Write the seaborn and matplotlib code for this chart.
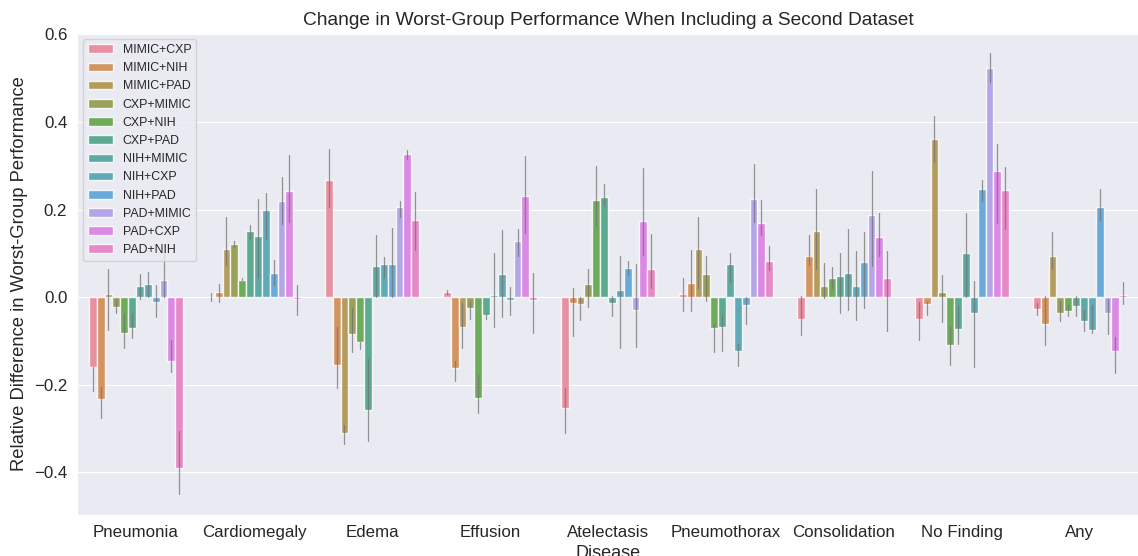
import numpy as np
import pandas as pd
import seaborn as sns
import matplotlib
matplotlib.use("Agg")
import matplotlib.pyplot as plt

diseases = ["Pneumonia", "Cardiomegaly", "Edema", "Effusion", "Atelectasis",
            "Pneumothorax", "Consolidation", "No Finding", "Any"]
combos = ["MIMIC+CXP", "MIMIC+NIH", "MIMIC+PAD", "CXP+MIMIC", "CXP+NIH", "CXP+PAD",
          "NIH+MIMIC", "NIH+CXP", "NIH+PAD", "PAD+MIMIC", "PAD+CXP", "PAD+NIH"]

# bar heights per disease, in combo order
pneumonia = [-0.159, -0.233, 0.007, -0.022, -0.081, -0.071, 0.025, 0.030, -0.011, 0.040, -0.145, -0.389]
cardiomegaly = [0.001, 0.012, 0.111, 0.122, 0.040, 0.151, 0.140, 0.200, 0.055, 0.219, 0.243, -0.003]
edema = [0.268, -0.155, -0.309, -0.083, -0.103, -0.258, 0.071, 0.075, 0.075, 0.206, 0.327, 0.177]
effusion = [0.013, -0.162, -0.068, -0.024, -0.231, -0.041, 0.006, 0.054, -0.007, 0.128, 0.232, -0.007]
atelectasis = [-0.252, -0.014, -0.016, 0.030, 0.221, 0.228, -0.013, 0.017, 0.067, -0.030, 0.173, 0.065]
pneumothorax = [0.007, 0.033, 0.109, 0.054, -0.071, -0.068, 0.075, -0.123, -0.018, 0.225, 0.170, 0.082]
consolidation = [-0.049, 0.095, 0.151, 0.026, 0.043, 0.048, 0.056, 0.026, 0.080, 0.188, 0.137, 0.043]
no_finding = [-0.049, -0.016, 0.360, 0.011, -0.108, -0.073, 0.102, -0.035, 0.248, 0.522, 0.288, 0.244]
any_disease = [-0.027, -0.062, 0.094, -0.035, -0.032, -0.021, -0.054, -0.075, 0.205, -0.035, -0.123, 0.006]

# error bar ends (upper, lower)
pneumonia_hi = [-0.159, -0.205, 0.065, -0.003, -0.037, -0.037, 0.054, 0.058, 0.027, 0.100, -0.098, -0.305]
pneumonia_lo = [-0.214, -0.275, -0.075, -0.037, -0.117, -0.094, -0.003, 0.001, -0.045, 0.000, -0.170, -0.448]
cardiomegaly_hi = [0.010, 0.031, 0.183, 0.128, 0.043, 0.164, 0.225, 0.238, 0.084, 0.275, 0.324, 0.027]
cardiomegaly_lo = [-0.009, -0.011, 0.073, 0.115, 0.039, 0.134, 0.043, 0.132, 0.027, 0.167, 0.172, -0.040]
edema_hi = [0.339, -0.069, -0.292, -0.024, -0.102, -0.142, 0.141, 0.092, 0.159, 0.219, 0.337, 0.241]
edema_lo = [0.205, -0.207, -0.336, -0.125, -0.119, -0.328, 0.001, 0.045, 0.001, 0.183, 0.316, 0.107]
effusion_hi = [0.016, -0.145, -0.013, -0.011, -0.178, -0.037, 0.101, 0.154, 0.024, 0.155, 0.322, 0.055]
effusion_lo = [0.008, -0.191, -0.117, -0.050, -0.264, -0.050, -0.068, -0.045, -0.041, 0.094, 0.146, -0.081]
atelectasis_hi = [-0.208, 0.022, 0.001, 0.064, 0.299, 0.258, 0.002, 0.094, 0.083, 0.075, 0.294, 0.144]
atelectasis_lo = [-0.309, -0.089, -0.051, -0.022, 0.162, 0.208, -0.043, -0.116, 0.050, -0.113, 0.096, 0.022]
pneumothorax_hi = [0.043, 0.108, 0.182, 0.095, -0.060, -0.041, 0.102, -0.106, 0.001, 0.303, 0.223, 0.118]
pneumothorax_lo = [-0.031, -0.031, 0.020, -0.009, -0.125, -0.123, 0.035, -0.157, -0.062, 0.172, 0.141, 0.063]
consolidation_hi = [0.002, 0.141, 0.246, 0.077, 0.068, 0.100, 0.156, 0.106, 0.148, 0.288, 0.193, 0.106]
consolidation_lo = [-0.087, 0.073, 0.065, -0.002, 0.020, -0.035, -0.030, -0.051, -0.024, 0.071, 0.094, -0.077]
no_finding_hi = [-0.011, -0.011, 0.413, 0.050, -0.066, -0.021, 0.193, 0.036, 0.268, 0.557, 0.349, 0.297]
no_finding_lo = [-0.098, -0.041, 0.309, -0.056, -0.155, -0.106, 0.001, -0.159, 0.220, 0.491, 0.170, 0.155]
any_hi = [-0.013, 0.002, 0.148, -0.009, -0.018, 0.003, -0.030, -0.018, 0.248, -0.003, -0.090, 0.035]
any_lo = [-0.041, -0.110, 0.065, -0.055, -0.043, -0.043, -0.077, -0.081, 0.174, -0.084, -0.174, -0.016]

values = [pneumonia, cardiomegaly, edema, effusion, atelectasis,
          pneumothorax, consolidation, no_finding, any_disease]
highs = [pneumonia_hi, cardiomegaly_hi, edema_hi, effusion_hi, atelectasis_hi,
         pneumothorax_hi, consolidation_hi, no_finding_hi, any_hi]
lows = [pneumonia_lo, cardiomegaly_lo, edema_lo, effusion_lo, atelectasis_lo,
        pneumothorax_lo, consolidation_lo, no_finding_lo, any_lo]

rows = []
for d, vals, his, los in zip(diseases, values, highs, lows):
    for c, v, h, l in zip(combos, vals, his, los):
        rows.append({"disease": d, "combo": c, "value": v, "hi": h, "lo": l})
df = pd.DataFrame(rows)

sns.set_style("darkgrid")
plt.rcParams["font.family"] = ["Liberation Sans", "DejaVu Sans"]

fig = plt.figure(figsize=(11.38, 5.56), dpi=100)
ax = fig.add_axes([77 / 1138, 41 / 556, 1062 / 1138, 482 / 556])

sns.barplot(data=df, x="disease", y="value", hue="combo", order=diseases,
            hue_order=combos, palette="husl", errorbar=None, alpha=0.85, ax=ax)

# error bars on top of each bar
for combo, cont in zip(combos, ax.containers):
    sub = df[df["combo"] == combo].set_index("disease").loc[diseases]
    for bar, h, l in zip(cont, sub["hi"], sub["lo"]):
        xc = bar.get_x() + bar.get_width() / 2
        ax.plot([xc, xc], [l, h], color="0.45", lw=0.9, alpha=0.75)

ax.set_xlim(-0.5, 8.5)
ax.set_ylim(-0.497, 0.603)
ax.set_yticks([-0.4, -0.2, 0.0, 0.2, 0.4, 0.6])
ax.tick_params(labelsize=12.2)
ax.set_xlabel("Disease", fontsize=13)
ax.set_ylabel("Relative Difference in Worst-Group Performance", fontsize=13.2)
ax.set_title("Change in Worst-Group Performance When Including a Second Dataset", fontsize=13.8)
ax.legend(loc="upper left", fontsize=8.9)

fig.savefig("out.png", dpi=100)
